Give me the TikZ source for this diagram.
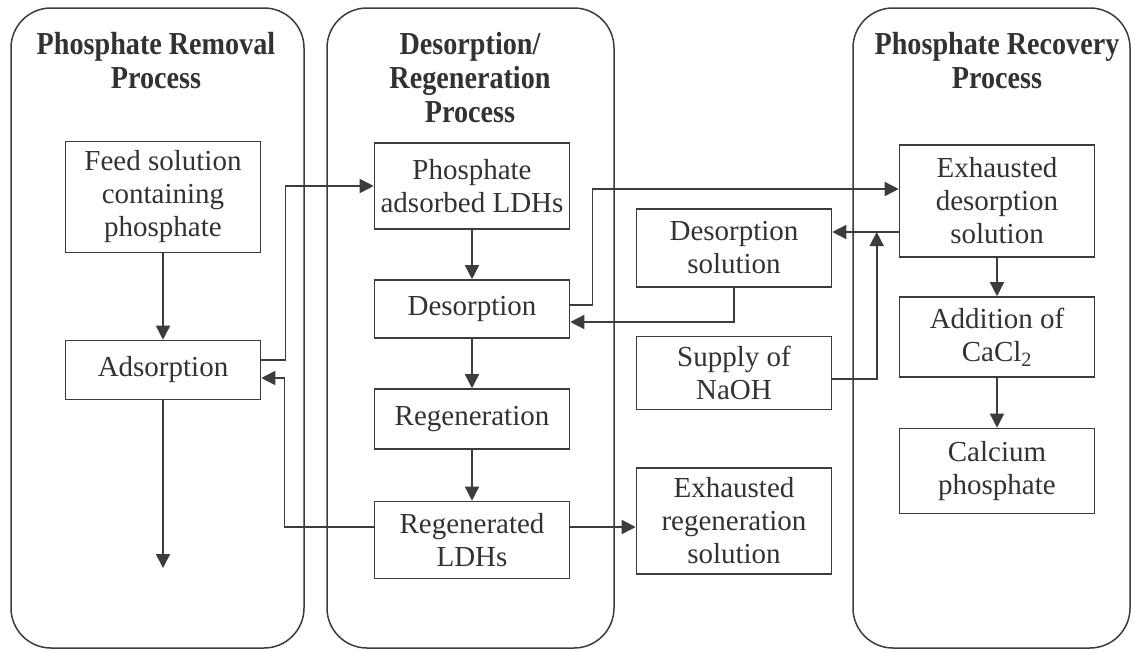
\documentclass[tikz,border=0pt]{standalone}
\usepackage{fontspec}
\setmainfont{Liberation Serif}
\newfontfamily\titlefont[FakeStretch=0.88]{Liberation Serif}
\usepackage{tikz}
\usetikzlibrary{arrows.meta,positioning}
\definecolor{trait}{RGB}{60,60,60}
\definecolor{texte}{RGB}{50,50,50}

\begin{document}
\begin{tikzpicture}[x=1pt, y=-1pt,
    box/.style={draw=trait, line width=1.6pt, text=texte, align=center,
                minimum width=195pt, inner sep=2pt,
                font=\fontsize{29}{33}\selectfont},
    panel/.style={draw=trait, line width=1.5pt, rounded corners=40pt},
    titre/.style={anchor=north, align=center, text=texte, inner sep=0pt,
                  font=\titlefont\bfseries\fontsize{32}{34}\selectfont},
    arr/.style={draw=trait, line width=1.6pt, -{Triangle[length=14pt,width=14pt]}}]

\useasboundingbox (0,0) rectangle (1135,653);

% the three process panels
\draw[panel] (11,8) rectangle (304,648);
\draw[panel] (327,8) rectangle (614,648);
\draw[panel] (853,8) rectangle (1130,648);

\node[titre] (tremoval) at (156,32) {Phosphate Removal\\Process};
\node[titre] (tdesorp) at (470,32) {Desorption/\\Regeneration\\Process};
\node[titre] (trecovery) at (997,32) {Phosphate Recovery\\Process};

% removal
\node[box, minimum height=111pt] (feed) at (163,197) {Feed solution\\containing\\phosphate};
\node[box, minimum height=59pt] (ads) at (163,370) {Adsorption};
\coordinate (sortie) at (163,568);

% desorption / regeneration
\node[box, minimum height=86pt] (padsorb) at (472,186) {Phosphate\\adsorbed LDHs};
\node[box, minimum height=58pt] (desorp) at (472,309) {Desorption};
\node[box, minimum height=60pt] (regen) at (472,419) {Regeneration};
\node[box, minimum height=77pt] (regldh) at (472,540) {Regenerated\\LDHs};

% between the panels
\node[box, minimum height=78pt] (dsol) at (734,248) {Desorption\\solution};
\node[box, minimum height=73pt] (naoh) at (734,373) {Supply of\\NaOH};
\node[box, minimum height=106pt] (exregen) at (734,521) {Exhausted\\regeneration\\solution};

% recovery
\node[box, minimum height=112pt] (exdes) at (997,201) {Exhausted\\desorption\\solution};
\node[box, minimum height=80pt] (cacl) at (997,337) {Addition of\\CaCl\textsubscript{2}};
\node[box, minimum height=85pt] (caphos) at (997,471) {Calcium\\phosphate};

\coordinate (jonction) at ([xshift=-22pt,yshift=-31pt]exdes.west);

% connectors
\draw[arr] (feed) -- (ads);
\draw[arr] (ads) -- (sortie);
\draw[arr] ([yshift=10pt]ads.east) -- ++(24,0) |- (padsorb.west);
\draw[arr] ([yshift=13pt]regldh.west) -| ([xshift=23pt,yshift=-8pt]ads.east) -- ([yshift=-8pt]ads.east);

\draw[arr] (padsorb) -- (desorp);
\draw[arr] (desorp) -- (regen);
\draw[arr] (regen) -- (regldh);
\draw[arr] ([yshift=13pt]regldh.east) -- ([yshift=13pt]regldh.east -| exregen.west);

\draw[arr] ([yshift=4pt]desorp.east) -- ++(22,0) |- ([yshift=12pt]exdes.west);
\draw[arr] (dsol.south) |- ([yshift=-13pt]desorp.east);
\draw[arr] ([yshift=-31pt]exdes.west) -- ([yshift=-31pt]exdes.west -| dsol.east);
\draw[arr] ([yshift=-6pt]naoh.east) -| (jonction);

\draw[arr] (exdes) -- (cacl);
\draw[arr] (cacl) -- (caphos);

\end{tikzpicture}
\end{document}
